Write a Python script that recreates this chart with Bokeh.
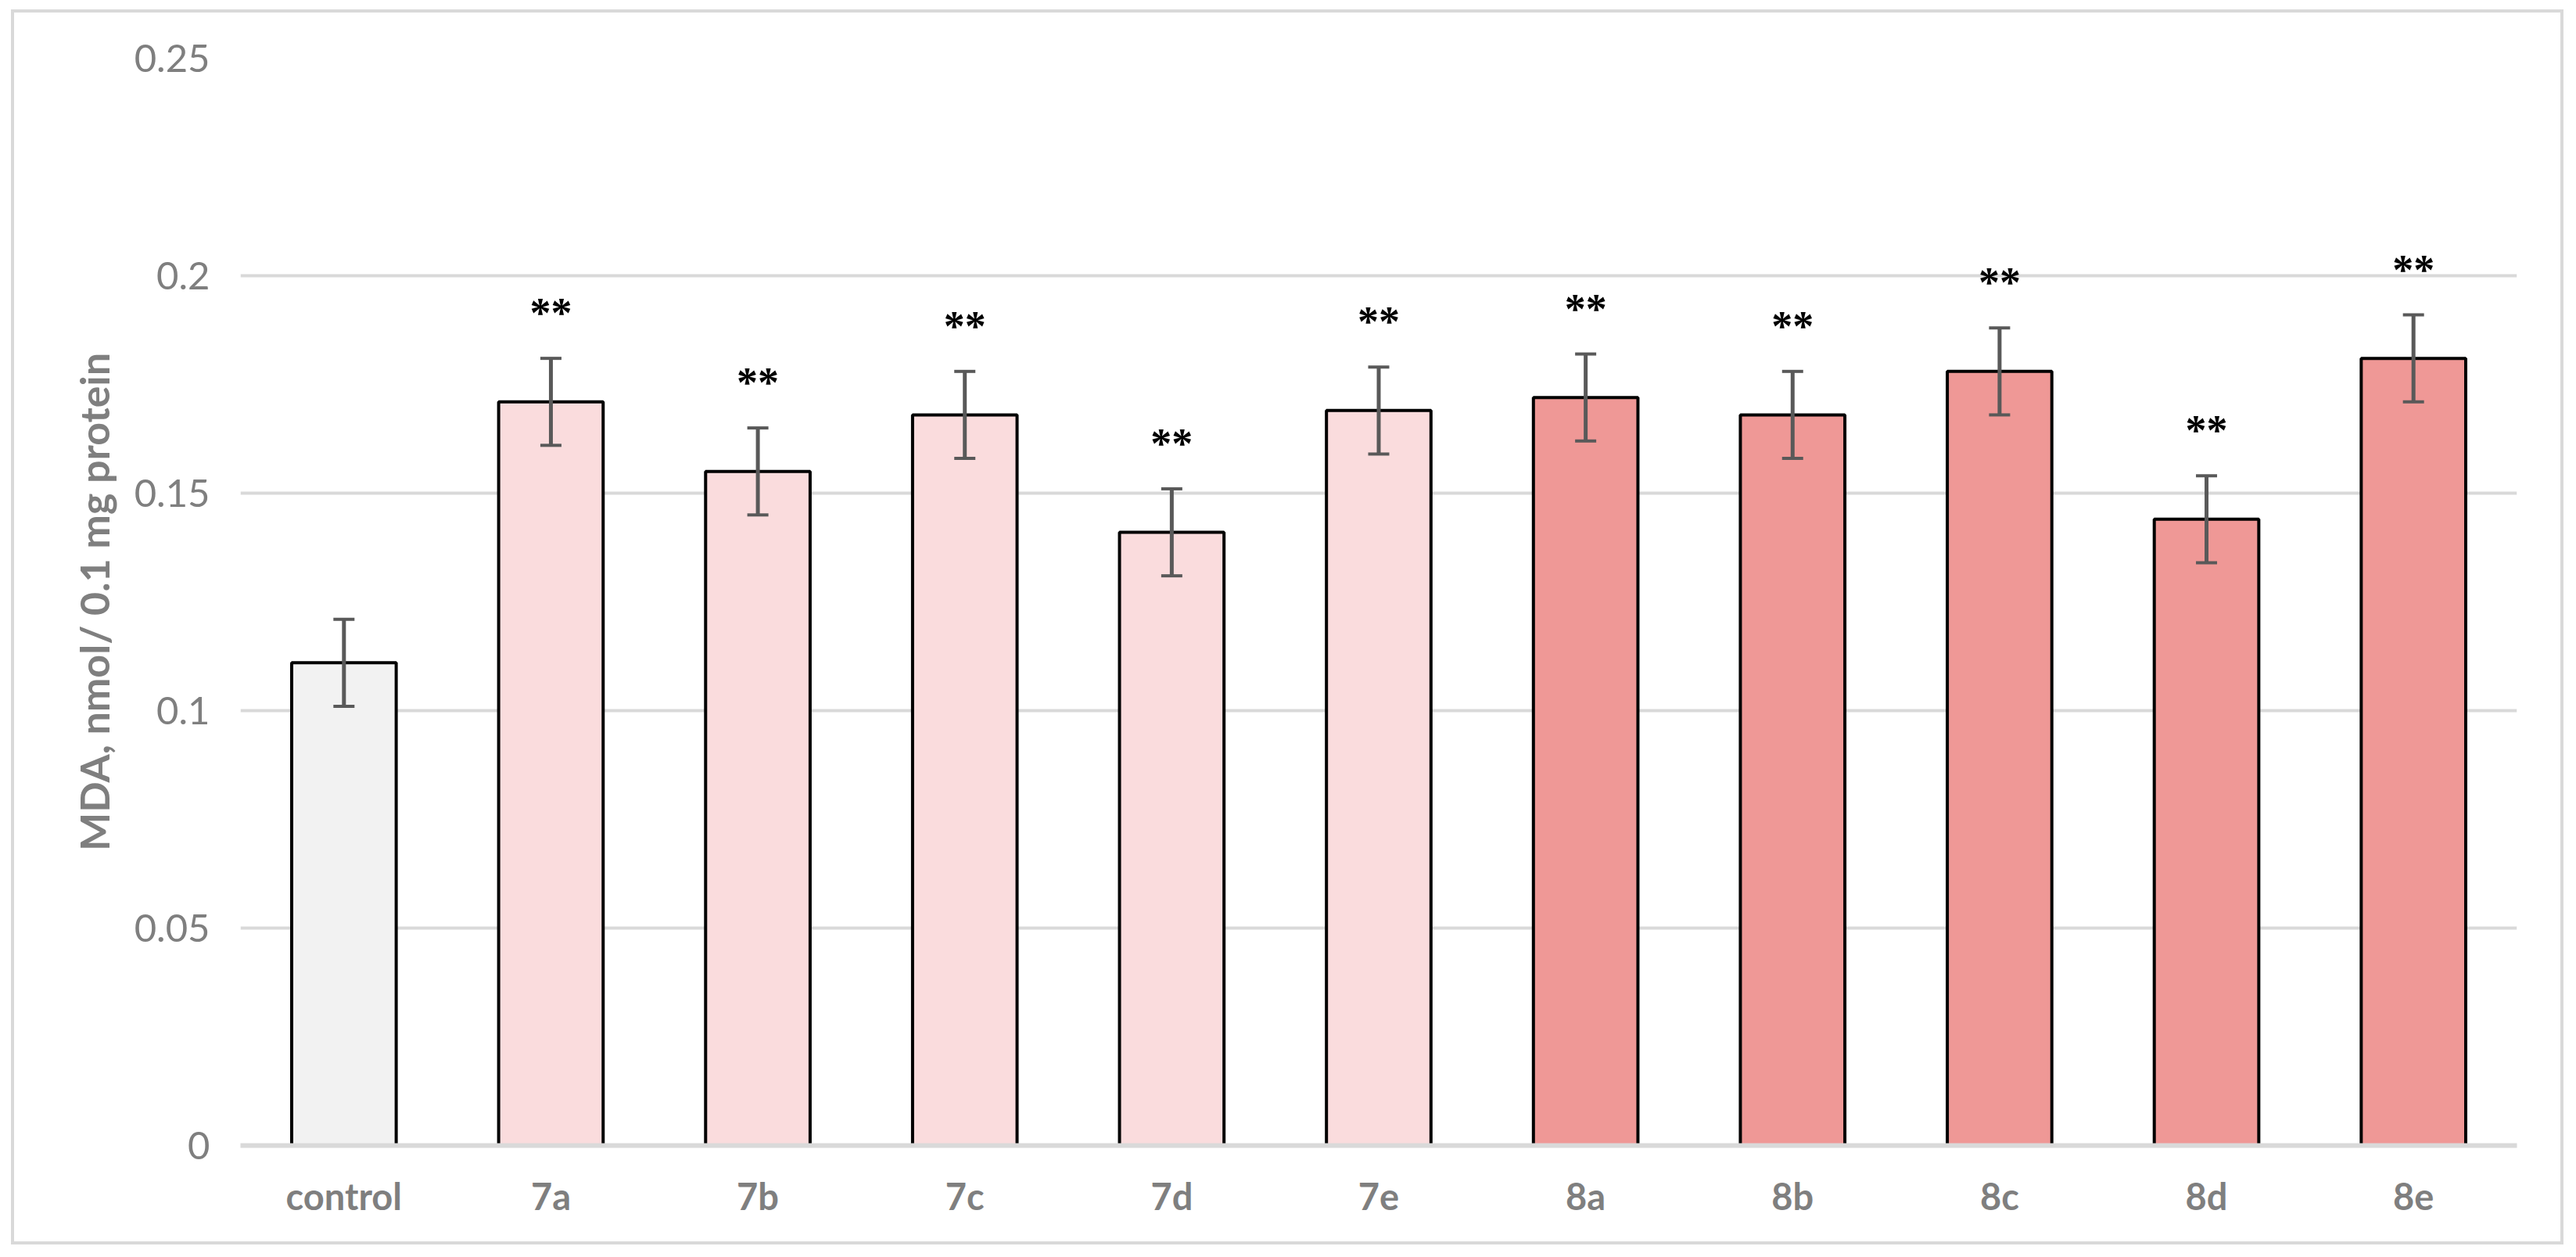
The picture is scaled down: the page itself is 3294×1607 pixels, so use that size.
from bokeh.plotting import figure
from bokeh.models import ColumnDataSource, FixedTicker, Whisker, TeeHead, InlineStyleSheet
from bokeh.core.properties import value
from bokeh.embed import file_html
from bokeh.resources import INLINE

# ---- data ----
categories = ["control", "7a", "7b", "7c", "7d", "7e", "8a", "8b", "8c", "8d", "8e"]
mda = [0.111, 0.171, 0.155, 0.168, 0.141, 0.169, 0.172, 0.168, 0.178, 0.144, 0.181]
sd = [0.010, 0.010, 0.010, 0.010, 0.010, 0.010, 0.010, 0.010, 0.010, 0.010, 0.010]
series = ["control", "7", "7", "7", "7", "7", "8", "8", "8", "8", "8"]
signif = ["", "**", "**", "**", "**", "**", "**", "**", "**", "**", "**"]
y_ticks = [0, 0.05, 0.1, 0.15, 0.2, 0.25]
y_tick_labels = ["0", "0.05", "0.1", "0.15", "0.2", "0.25"]
y_title = "MDA, nmol/ 0.1 mg protein"

# ---- styles ----
series_colors = {"control": "#F2F2F2", "7": "#FADCDD", "8": "#EF9896"}
GRID = "#D9D9D9"
TXT = "#7F7F7F"
FONT = "Lato"

fills = [series_colors[s] for s in series]
upper = [m + e for m, e in zip(mda, sd)]
lower = [m - e for m, e in zip(mda, sd)]
src = ColumnDataSource(dict(cat=categories, mda=mda, fill=fills, upper=upper,
                            lower=lower, sig=signif))

W, H = 3278, 1591
p = figure(x_range=categories, y_range=(0, 0.25), width=W, height=H,
           output_backend="svg", toolbar_location=None,
           min_border_left=307, min_border_right=60, min_border_top=74,
           min_border_bottom=127)
p.outline_line_color = None
p.border_fill_color = None
p.background_fill_color = None

# chart-area border drawn behind the transparent canvas
shadow = ("inset 14px 0 0 0 #FFFFFF, inset 0 12px 0 0 #FFFFFF, "
          "inset 18px 0 0 0 #D9D9D9, inset 0 16px 0 0 #D9D9D9, "
          "inset -4px 0 0 0 #D9D9D9, inset 0 -4px 0 0 #D9D9D9")
p.styles = {"box-shadow": shadow, "background-color": "#FFFFFF"}
p.stylesheets = [InlineStyleSheet(css=":host { box-shadow: %s; background-color: #FFFFFF; }" % shadow)]

p.vbar(x="cat", top="mda", width=0.505, source=src, fill_color="fill",
       line_color="black", line_width=4)

wh = Whisker(base="cat", upper="upper", lower="lower", source=src,
             line_color="#595959", line_width=5, level="annotation",
             upper_head=TeeHead(size=27, line_color="#595959", line_width=4),
             lower_head=TeeHead(size=27, line_color="#595959", line_width=4))
p.add_layout(wh)

p.text(x="cat", y="upper", text="sig", source=src, y_offset=-58,
       text_align="center", text_baseline="middle",
       text_font=value("Liberation Serif"), text_font_size="54px",
       text_font_style="bold", text_color="black")

# grid
p.xgrid.grid_line_color = None
p.ygrid.grid_line_color = GRID
p.ygrid.grid_line_width = 4
p.yaxis.ticker = FixedTicker(ticks=y_ticks)
p.yaxis.major_label_overrides = {t: l for t, l in zip(y_ticks, y_tick_labels)}

# axes
p.yaxis.axis_line_color = None
p.yaxis.major_tick_line_color = None
p.yaxis.minor_tick_line_color = None
p.yaxis.major_label_text_font = FONT
p.yaxis.major_label_text_font_size = "49px"
p.yaxis.major_label_text_color = TXT
p.yaxis.major_label_standoff = 33
p.yaxis.axis_label = y_title
p.yaxis.axis_label_text_font = FONT
p.yaxis.axis_label_text_font_size = "52px"
p.yaxis.axis_label_text_font_style = "bold"
p.yaxis.axis_label_text_color = TXT
p.yaxis.axis_label_standoff = 18

p.xaxis.axis_line_color = GRID
p.xaxis.axis_line_width = 6
p.xaxis.major_tick_line_color = None
p.xaxis.minor_tick_line_color = None
p.xaxis.major_label_text_font = FONT
p.xaxis.major_label_text_font_size = "47px"
p.xaxis.major_label_text_font_style = "bold"
p.xaxis.major_label_text_color = TXT
p.xaxis.major_label_standoff = 30

open("out.html", "w").write(file_html(p, INLINE))
